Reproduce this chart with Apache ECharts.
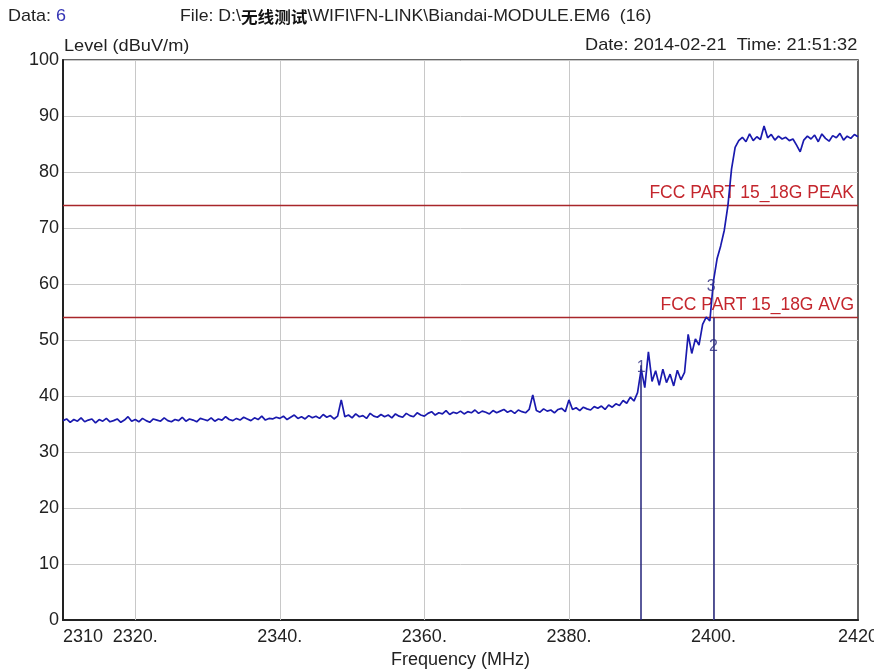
<!DOCTYPE html>
<html><head><meta charset="utf-8">
<script src="https://cdn.jsdelivr.net/npm/echarts@6/dist/echarts.min.js"></script>
<style>html,body{margin:0;padding:0;background:#fff}#c{width:874px;height:671px}</style>
</head><body><div id="c"></div>
<script>
// Sweep grid of the trace
const freqStart = 2310;
const freqStep = 0.5;
// Measured level (dBuV/m), one value per 0.5 MHz from 2310 to 2420
const levels = [
 35.6,35.9,35.3,35.8,35.5,36.1,35.4,35.7,35.9,35.2, 35.8,35.5,36.0,35.4,35.6,35.9,35.3,35.7,36.3,35.5,
 35.8,35.4,36.0,35.6,35.3,35.9,35.7,35.5,36.1,35.6, 35.4,35.8,35.6,36.2,35.5,35.9,35.7,35.4,36.0,35.8,
 35.6,36.1,35.5,35.9,35.7,36.3,35.8,35.6,36.0,35.7, 36.2,35.9,35.6,36.1,35.8,36.4,35.7,36.0,35.9,36.2,
 36.0,36.4,35.8,36.2,36.6,36.0,36.3,35.9,36.5,36.1, 36.4,36.0,36.7,36.2,36.5,35.9,36.4,39.3,36.3,36.6,
 36.1,36.8,36.3,36.5,36.0,36.9,36.4,36.2,36.7,36.3, 36.6,36.1,36.8,36.4,36.2,36.9,36.5,36.3,37.0,36.6,
 36.4,36.9,37.2,36.6,37.0,36.8,37.4,36.7,37.1,36.9, 37.3,36.8,37.2,37.0,37.5,36.9,37.3,37.1,36.8,37.4,
 37.0,37.3,37.6,37.1,37.4,36.9,37.5,37.2,37.0,37.6, 40.2,37.4,37.1,37.7,37.3,37.5,37.0,37.6,37.8,37.2,
 39.3,37.6,37.9,37.4,38.0,37.7,37.5,38.1,37.8,38.2, 37.6,38.4,38.0,38.6,38.3,39.2,38.7,39.8,39.1,40.6,
 44.8,41.5,47.9,42.6,44.5,41.9,44.8,42.4,43.9,41.8, 44.6,42.9,44.2,51.0,47.6,50.2,49.1,52.8,54.1,53.4,
 60.5,64.5,66.8,69.6,74.0,80.5,84.4,85.6,86.2,85.4, 86.8,85.6,86.3,85.8,88.2,86.1,86.7,85.7,86.4,85.9,
 86.2,85.6,85.9,84.8,83.6,85.7,86.4,85.9,86.6,85.4, 86.8,86.0,85.5,86.5,86.1,86.9,85.7,86.4,86.0,86.7,
 86.3
];
const xTicks = [2310, 2320, 2340, 2360, 2380, 2400, 2420];
const xTickLabels = ['2310', '2320.', '2340.', '2360.', '2380.', '2400.', '2420'];
const limitNames = ['FCC PART 15_18G PEAK', 'FCC PART 15_18G AVG'];
const limitValues = [74, 54];
const markerFreqs = [2390, 2400];
const markerLevels = [45.5, 54];
const markerLabels = ['1', '2', '3'];
const markerLabelFreqs = [2390.0, 2400.0, 2399.7];
const markerLabelLevels = [45, 48.9, 59.6];

const FONT = "'Liberation Sans',Arial,sans-serif";
const traceData = levels.map((v, i) => [freqStart + i * freqStep, v]);
const labelMap = {};
xTicks.forEach((t, i) => labelMap[t] = xTickLabels[i]);

const chart = echarts.init(document.getElementById('c'), null, {renderer: 'canvas'});
chart.setOption({
  animation: false,
  backgroundColor: '#fff',
  grid: {left: 63, right: 16, top: 60, bottom: 51, show: true, borderColor: '#333', borderWidth: 1.5, backgroundColor: '#fff',
         containLabel: false, outerBoundsMode: 'none'},
  xAxis: {
    type: 'value', min: 2310, max: 2420, interval: 10,
    axisLine: {show: true, onZero: false, lineStyle: {color: '#222', width: 2}},
    axisTick: {show: false},
    splitLine: {show: false},
    axisLabel: {
      color: '#222', fontSize: 18, fontFamily: FONT, margin: 8,
      formatter: v => labelMap[v] !== undefined ? labelMap[v] : '',
      showMinLabel: true, showMaxLabel: true, alignMinLabel: 'left', alignMaxLabel: 'center', hideOverlap: false
    },
    name: 'Frequency (MHz)', nameLocation: 'middle', nameGap: 30,
    nameTextStyle: {color: '#222', fontSize: 18, fontFamily: FONT}
  },
  yAxis: {
    type: 'value', min: 0, max: 100, interval: 10,
    axisLine: {show: true, lineStyle: {color: '#222', width: 2}},
    axisTick: {show: false},
    splitLine: {show: true, lineStyle: {color: '#c8c8c8', width: 1}},
    axisLabel: {color: '#222', fontSize: 18, fontFamily: FONT, margin: 4}
  },
  graphic: [
    {type: 'text', left: 8, top: 8, scaleX: 1.06, style: {text: '{a|Data: }{b|6}', rich: {a: {fontSize: 17, fontFamily: FONT, fill: '#222'}, b: {fontSize: 17, fontFamily: FONT, fill: '#3535b5'}}}},
    {type: 'text', left: 180, top: 8, scaleX: 1.04, style: {text: '{a|File: D:\\}{c|无线测试}{a|\\WIFI\\FN-LINK\\Biandai-MODULE.EM6  (16)}',
      rich: {a: {fontSize: 17, fontFamily: FONT, fill: '#222'}, c: {fontSize: 16, fontWeight: 'bold', fontFamily: "'Noto Sans CJK SC',sans-serif", fill: '#111'}}}},
    {type: 'text', left: 64, top: 38, scaleX: 1.07, style: {text: 'Level (dBuV/m)', fontSize: 17, fontFamily: FONT, fill: '#222'}},
    {type: 'text', left: 585, top: 37, scaleX: 1.07, style: {text: 'Date: 2014-02-21  Time: 21:51:32', fontSize: 17, fontFamily: FONT, fill: '#222'}}
  ],
  series: [
    {
      type: 'line', data: traceData, showSymbol: false, symbol: 'none',
      lineStyle: {color: '#1a1aae', width: 1.7}, z: 5,
      markLine: {
        silent: true, symbol: 'none', animation: false,
        data: xTicks.slice(1, -1).map(t => ({xAxis: t, lineStyle: {color: '#c8c8c8', width: 1, type: 'solid'}, label: {show: false}}))
          .concat(limitValues.map((v, i) => ({yAxis: v, lineStyle: {color: '#a8262a', width: 1.3, type: 'solid'},
            label: {show: true, formatter: limitNames[i], position: 'insideEndTop', color: '#c4262d', fontSize: 17.5, fontFamily: FONT, distance: [4, 3]}})))
          .concat(markerFreqs.map((f, i) => [{coord: [f, 0], lineStyle: {color: '#23237a', width: 1.5, type: 'solid'}, label: {show: false}}, {coord: [f, markerLevels[i]]}]))
      }
    },
    {
      type: 'scatter', symbolSize: 0, z: 6,
      data: markerLabels.map((l, i) => ({value: [markerLabelFreqs[i], markerLabelLevels[i]], name: l})),
      label: {show: true, position: 'inside', formatter: p => p.name, color: '#2a2a80', fontSize: 16, fontFamily: FONT}
    }
  ]
});
</script></body></html>
